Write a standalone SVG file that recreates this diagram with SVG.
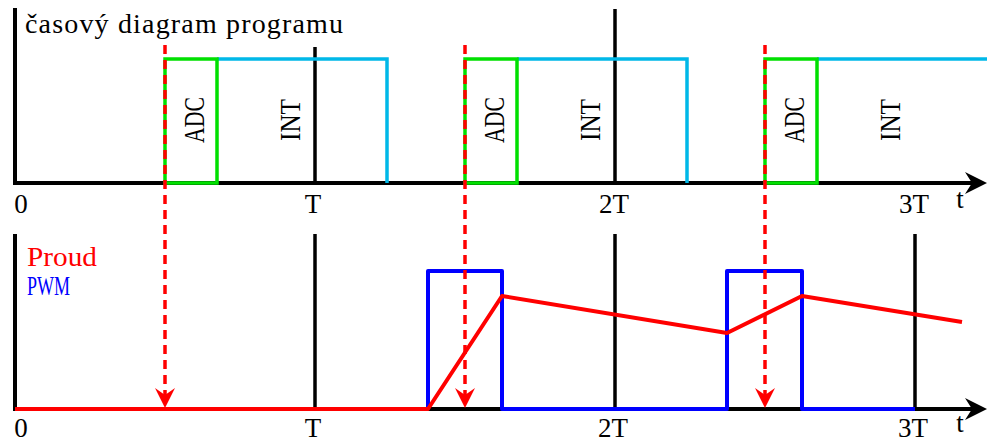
<svg xmlns="http://www.w3.org/2000/svg" width="987" height="443" viewBox="0 0 987 443">
<style>
.ax{stroke:#000;stroke-width:4;fill:none}
.tick{stroke:#000;stroke-width:3.5;fill:none}
.adc{stroke:#00e000;stroke-width:3.5;fill:none}
.int{stroke:#00b8e8;stroke-width:3.5;fill:none}
.dash{stroke:#ff0000;stroke-width:3.5;stroke-dasharray:9 6;fill:none}
.pwm{stroke:#0000ff;stroke-width:4;fill:none;stroke-linejoin:round}
.proud{stroke:#ff0000;stroke-width:4;fill:none;stroke-linejoin:round}
.lbl{font-family:"Liberation Serif",serif;font-size:27px;fill:#000}
.rot{font-family:"Liberation Serif",serif;font-size:30px;fill:#000}
.ttl{font-family:"Liberation Serif",serif;font-size:28px;fill:#000}
.leg{font-family:"Liberation Serif",serif;font-size:28px}
</style>
<g id="top-panel">
  <path class="ax" d="M15 8 V185"/>
  <path class="ax" d="M13 183 H975"/>
  <path d="M987 183 L965 172 L972 183 L965 194 Z" fill="#000"/>
  <path class="tick" d="M315 47 V183"/>
  <path class="tick" d="M615 9 V183"/>
  <text class="ttl" x="25" y="33" textLength="318">časový diagram programu</text>
</g>
<g id="top-labels">
  <text class="lbl" x="21" y="213" text-anchor="middle">0</text>
  <text class="lbl" x="313" y="213" text-anchor="middle">T</text>
  <text class="lbl" x="614" y="213" text-anchor="middle">2T</text>
  <text class="lbl" x="914" y="213" text-anchor="middle">3T</text>
  <text class="lbl" x="960" y="208" text-anchor="middle">t</text>
</g>
<g id="int1"><path class="int" d="M217 59 H387 V183"/><text class="rot" transform="translate(300,120) rotate(-90)" text-anchor="middle" textLength="42" lengthAdjust="spacingAndGlyphs">INT</text></g>
<g id="adc1"><path class="adc" d="M165 183 V59 H217 V183 Z"/><text class="rot" transform="translate(204,120) rotate(-90)" text-anchor="middle" textLength="46" lengthAdjust="spacingAndGlyphs">ADC</text></g>
<g id="int2"><path class="int" d="M517 59 H687 V183"/><text class="rot" transform="translate(600,120) rotate(-90)" text-anchor="middle" textLength="42" lengthAdjust="spacingAndGlyphs">INT</text></g>
<g id="adc2"><path class="adc" d="M465 183 V59 H517 V183 Z"/><text class="rot" transform="translate(504,120) rotate(-90)" text-anchor="middle" textLength="46" lengthAdjust="spacingAndGlyphs">ADC</text></g>
<g id="int3"><path class="int" d="M817 59 H987"/><text class="rot" transform="translate(900,120) rotate(-90)" text-anchor="middle" textLength="42" lengthAdjust="spacingAndGlyphs">INT</text></g>
<g id="adc3"><path class="adc" d="M765 183 V59 H817 V183 Z"/><text class="rot" transform="translate(804,120) rotate(-90)" text-anchor="middle" textLength="46" lengthAdjust="spacingAndGlyphs">ADC</text></g>
<g id="bottom-panel">
  <path class="ax" d="M15 234 V411"/>
  <path class="ax" d="M13 409 H975"/>
  <path d="M987 409 L965 398 L972 409 L965 420 Z" fill="#000"/>
  <path class="tick" d="M315 234 V409"/>
  <path class="tick" d="M615 234 V409"/>
  <path class="tick" d="M915 234 V409"/>
  <text class="leg" x="27" y="266" fill="#ff0000" textLength="70" lengthAdjust="spacingAndGlyphs">Proud</text>
  <text class="leg" x="27" y="295" fill="#0000ff" textLength="43" lengthAdjust="spacingAndGlyphs">PWM</text>
</g>
<g id="bottom-labels">
  <text class="lbl" x="21" y="437" text-anchor="middle">0</text>
  <text class="lbl" x="313" y="437" text-anchor="middle">T</text>
  <text class="lbl" x="613" y="437" text-anchor="middle">2T</text>
  <text class="lbl" x="913" y="437" text-anchor="middle">3T</text>
  <text class="lbl" x="960" y="432" text-anchor="middle">t</text>
</g>
<g id="pwm"><path class="pwm" d="M428 409 V271 H502 V409 H727 V271 H802 V409 H915"/></g>
<g id="proud"><path class="proud" d="M15 409 H428 L502 296 L727 333 L802 296 L962 322"/></g>
<g id="connectors">
  <path class="dash" d="M165 45 V396"/>
  <path d="M165 408 L155 388 L165 395 L175 388 Z" fill="#ff0000"/>
  <path class="dash" d="M465 45 V396"/>
  <path d="M465 408 L455 388 L465 395 L475 388 Z" fill="#ff0000"/>
  <path class="dash" d="M765 45 V396"/>
  <path d="M765 408 L755 388 L765 395 L775 388 Z" fill="#ff0000"/>
</g>
</svg>
